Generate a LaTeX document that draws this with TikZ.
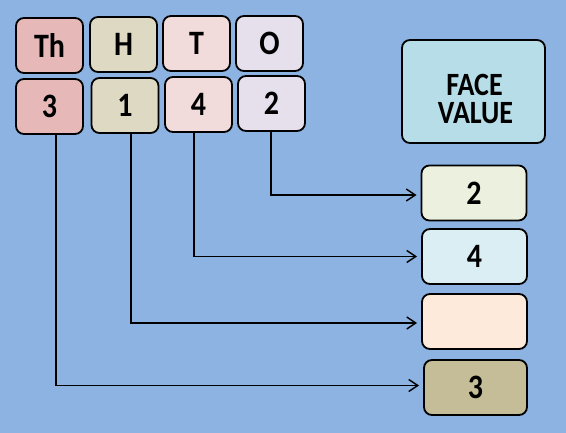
\documentclass[tikz,border=0pt]{standalone}
\usepackage{fontspec}
\usepackage{graphicx}
\setmainfont{Carlito}
\usetikzlibrary{arrows.meta}
\definecolor{bg}{RGB}{141,179,226}
\definecolor{cth}{RGB}{230,185,184}
\definecolor{ch}{RGB}{221,217,195}
\definecolor{ct}{RGB}{242,220,219}
\definecolor{co}{RGB}{229,224,236}
\definecolor{cfv}{RGB}{183,222,232}
\definecolor{ca}{RGB}{235,241,222}
\definecolor{cb}{RGB}{219,238,244}
\definecolor{cc}{RGB}{253,234,218}
\definecolor{cd}{RGB}{196,189,151}
\newcommand{\tx}[1]{\scalebox{1}[1.14]{#1}}
\newcommand{\fvx}[1]{\scalebox{1}[1.16]{#1}}
\tikzset{
  box/.style={draw=black, line width=1.8pt, rounded corners=8pt, minimum width=67pt, minimum height=55pt, inner sep=0pt, font=\fontsize{30}{32}\selectfont\bfseries},
  rbox/.style={box, minimum width=105pt, minimum height=55pt},
  fvlabel/.style={inner sep=0pt, anchor=base, font=\fontsize{28}{30}\selectfont\bfseries},
  conn/.style={draw=black, line width=1.5pt, shorten >=4pt, -{Straight Barb[length=9pt,width=12pt,line width=1.5pt]}}
}
\begin{document}
\begin{tikzpicture}[x=1pt,y=-1pt]
\fill[bg] (0,0) rectangle (566,433);
\useasboundingbox (0,0) rectangle (566,433);
\node[box, fill=cth] (thh) at (49.5,45.5) {\tx{Th}};
\node[box, fill=ch]  (hh)  at (123.5,44.5) {\tx{H}};
\node[box, fill=ct]  (th)  at (196.5,43.5) {\tx{T}};
\node[box, fill=co]  (oh)  at (269.5,43.5) {\tx{O}};
\node[box, fill=cth] (thd) at (49.5,106.5) {\tx{3}};
\node[box, fill=ch]  (hd)  at (125,105.5) {\tx{1}};
\node[box, fill=ct]  (td)  at (198.5,104.5) {\tx{4}};
\node[box, fill=co]  (od)  at (271.5,103.5) {\tx{2}};
\node[box, fill=cfv, minimum width=143pt, minimum height=103pt] (fv) at (473.5,91.5) {};
\node[fvlabel] (fvt1) at (474.5,95.5) {\fvx{FACE}};
\node[fvlabel] (fvt2) at (475.5,123.5) {\fvx{VALUE}};
\node[rbox, fill=ca] (ra) at (474,193) {\tx{2}};
\node[rbox, fill=cb] (rb) at (474.5,256.5) {\tx{4}};
\node[rbox, fill=cc] (rc) at (474.5,321.5) {};
\node[rbox, fill=cd, minimum width=103pt] (rd) at (475.5,387.5) {\tx{3}};
\draw[conn] ([xshift=-0.5pt]od.south) |- ([yshift=-2pt]ra.west);
\draw[conn] ([xshift=-4.5pt]td.south) |- (rb.west);
\draw[conn] ([xshift=6pt]hd.south) |- ([yshift=-1.5pt]rc.west);
\draw[conn] ([xshift=6.5pt]thd.south) |- ([yshift=2pt]rd.west);
\end{tikzpicture}
\end{document}
